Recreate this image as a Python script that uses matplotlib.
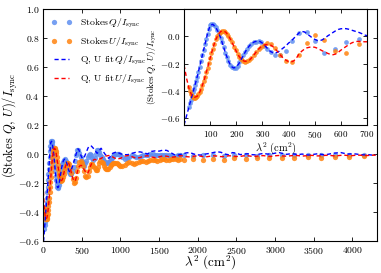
import numpy as np
import matplotlib
matplotlib.use('Agg')
import matplotlib.pyplot as plt

plt.rcParams['font.family'] = 'serif'
plt.rcParams['font.serif'] = ['cmr10']
plt.rcParams['mathtext.fontset'] = 'cm'
plt.rcParams['axes.formatter.use_mathtext'] = True

# densely sampled channels, shared by both panels (lambda^2 in cm^2)
lam2_dense = [18, 22, 26, 30, 34, 38, 42, 46, 50, 55, 60, 65, 70, 75, 80, 85, 90, 95,
              100, 105, 110, 116, 122, 128, 134, 140, 146, 152, 158, 164, 170, 177,
              184, 191, 198, 205, 212, 219, 226, 234, 242, 250, 258, 267, 276, 286, 296]
q_dense = [-0.52, -0.49, -0.47, -0.44, -0.41, -0.385, -0.36, -0.33, -0.30, -0.26,
           -0.225, -0.18, -0.14, -0.10, -0.06, -0.02, 0.02, 0.055, 0.08, 0.09, 0.09,
           0.08, 0.065, 0.045, 0.02, -0.01, -0.045, -0.08, -0.12, -0.15, -0.18, -0.21,
           -0.225, -0.235, -0.23, -0.215, -0.19, -0.165, -0.14, -0.115, -0.09, -0.07,
           -0.055, -0.045, -0.04, -0.035, -0.045]
u_dense = [-0.37, -0.40, -0.42, -0.44, -0.445, -0.45, -0.45, -0.445, -0.44, -0.425,
           -0.41, -0.385, -0.36, -0.33, -0.30, -0.265, -0.23, -0.195, -0.16, -0.125,
           -0.09, -0.055, -0.02, 0.005, 0.02, 0.035, 0.04, 0.04, 0.035, 0.02, 0.005,
           -0.02, -0.045, -0.075, -0.10, -0.13, -0.15, -0.165, -0.18, -0.185, -0.18,
           -0.175, -0.16, -0.14, -0.115, -0.095, -0.075]

# sparse points seen in the inset (300-700 cm^2)
lam2_zoom = [306, 317, 332, 349, 368, 391, 413, 441, 470, 502, 536, 576, 619, 668]
q_zoom = [-0.07, -0.09, -0.113, -0.14, -0.14, -0.105, -0.037, 0.025, 0.03, -0.037,
          -0.12, -0.09, -0.043, -0.022]
u_zoom = [-0.065, -0.05, -0.06, -0.088, -0.135, -0.18, -0.188, -0.137, -0.05, 0.007,
          -0.027, -0.105, -0.123, -0.053]

# long-wavelength channels in the main panel
lam2_wide = [306, 321, 336, 351, 366, 381, 396, 411, 426, 441, 456, 471, 486, 501,
             516, 531, 546, 561, 576, 591, 606, 621, 636, 651, 666, 681, 696, 711,
             726, 741, 756, 771, 786, 801, 816, 831, 846, 861, 876, 891, 906, 921,
             936, 951, 966, 981, 996, 1026, 1056, 1086, 1116, 1146, 1176, 1206, 1236,
             1266, 1296, 1326, 1356, 1386, 1416, 1446, 1476, 1506, 1536, 1566, 1596,
             1626, 1656, 1686, 1716, 1746, 1776, 1825, 1945, 2070, 2200, 2335, 2475,
             2620, 2770, 2925, 3085, 3250, 3420, 3595, 3775, 3960, 4150]
q_wide = [-0.07, -0.10, -0.125, -0.138, -0.138, -0.12, -0.09, -0.05, -0.01, 0.025,
          0.028, 0.01, -0.02, -0.05, -0.075, -0.08, -0.065, -0.045, -0.02, -0.005,
          0.0, -0.01, -0.03, -0.04, -0.03, 0.0, 0.03, 0.025, 0.012, -0.005, -0.02,
          -0.035, -0.048, -0.056, -0.06, -0.06, -0.056, -0.046, -0.035, -0.024,
          -0.014, -0.006, -0.002, 0.0, 0.0, -0.003, -0.01, -0.02, -0.034, -0.03,
          -0.018, -0.01, -0.012, -0.018, -0.02, -0.016, -0.01, -0.006, -0.004,
          -0.002, 0.0, -0.004, -0.008, -0.01, -0.008, -0.005, -0.006, -0.01, -0.013,
          -0.014, -0.012, -0.01, -0.01, -0.01, -0.015, -0.01, -0.005, -0.015, -0.01,
          -0.005, -0.012, -0.008, -0.01, -0.005, -0.008, -0.01, -0.004, -0.008, -0.005]
u_wide = [-0.065, -0.06, -0.07, -0.095, -0.13, -0.17, -0.198, -0.195, -0.165, -0.12,
          -0.08, -0.055, -0.05, -0.06, -0.085, -0.12, -0.15, -0.16, -0.15, -0.12,
          -0.09, -0.072, -0.07, -0.08, -0.095, -0.108, -0.11, -0.09, -0.065, -0.05,
          -0.052, -0.065, -0.08, -0.095, -0.103, -0.105, -0.10, -0.09, -0.078,
          -0.068, -0.062, -0.06, -0.06, -0.064, -0.071, -0.078, -0.083, -0.085,
          -0.075, -0.062, -0.056, -0.06, -0.066, -0.062, -0.052, -0.046, -0.05,
          -0.052, -0.046, -0.04, -0.038, -0.042, -0.045, -0.04, -0.035, -0.036,
          -0.04, -0.038, -0.034, -0.033, -0.037, -0.038, -0.034, -0.04, -0.035,
          -0.04, -0.035, -0.038, -0.03, -0.032, -0.028, -0.03, -0.025, -0.028,
          -0.02, -0.025, -0.018, -0.02, -0.015]

# fitted model (Q, U fit) sampled in lambda^2
lam2_fit = list(range(0, 701, 10)) + list(range(750, 4301, 50))

q_fit = [-0.65, -0.58, -0.51, -0.44, -0.37, -0.30, -0.22, -0.14, -0.06, 0.02,
         0.08, 0.088, 0.07, 0.035, -0.01, -0.07, -0.13, -0.18, -0.22, -0.232,
         -0.225, -0.20, -0.165, -0.13, -0.095, -0.07, -0.05, -0.04, -0.035, -0.037,
         -0.05, -0.07, -0.09, -0.11, -0.12, -0.122, -0.115, -0.10, -0.085, -0.07,
         -0.05, -0.035, -0.015, 0.005, 0.025, 0.035, 0.033, 0.02, 0.005, -0.01,
         -0.022, -0.03, -0.032, -0.025, -0.012, 0.003, 0.015, 0.028, 0.04, 0.05,
         0.055, 0.057, 0.056, 0.052, 0.046, 0.04, 0.034, 0.028, 0.02, 0.01, 0.005,
         # 750 .. 4300
         0.04, 0.0, -0.03, 0.005, 0.015, 0.002, -0.005, -0.004, 0.005, 0.012,
         0.015, 0.01, 0.0, 0.018, 0.022, 0.02, 0.027, 0.025, 0.01, -0.005,
         -0.007, 0.0, 0.008, 0.01, 0.0, -0.006, -0.007, 0.0, 0.004, 0.01,
         0.016, 0.012, 0.0, -0.005, 0.01, 0.006, -0.004, 0.0, 0.002, -0.004,
         -0.006, 0.0, 0.004, 0.0, 0.0, 0.006, 0.01, 0.004, -0.002, 0.002,
         0.0, -0.004, 0.0, -0.006, -0.007, -0.002, 0.002, -0.003, -0.005, 0.0,
         0.006, 0.008, 0.01, 0.004, 0.0, 0.002, 0.0, -0.004, -0.006, -0.004,
         -0.007, -0.005]

u_fit = [-0.21, -0.31, -0.39, -0.435, -0.447, -0.44, -0.41, -0.36, -0.30, -0.23,
         -0.16, -0.09, -0.03, 0.01, 0.035, 0.04, 0.03, 0.005, -0.03, -0.07,
         -0.11, -0.145, -0.17, -0.182, -0.183, -0.175, -0.155, -0.13, -0.105, -0.085,
         -0.07, -0.062, -0.06, -0.062, -0.075, -0.095, -0.115, -0.14, -0.16, -0.175,
         -0.185, -0.188, -0.18, -0.16, -0.13, -0.11, -0.095, -0.085, -0.08, -0.078,
         -0.08, -0.087, -0.097, -0.107, -0.115, -0.125, -0.132, -0.135, -0.13, -0.118,
         -0.102, -0.088, -0.075, -0.062, -0.05, -0.042, -0.038, -0.037, -0.038, -0.04,
         -0.04,
         # 750 .. 4300
         -0.03, -0.015, -0.01, -0.02, -0.035, -0.03, -0.015, -0.01, -0.018, -0.028,
         -0.025, -0.015, -0.012, -0.02, -0.025, -0.02, -0.012, -0.015, -0.022, -0.02,
         -0.013, -0.012, -0.018, -0.02, -0.015, -0.012, -0.016, -0.02, -0.016, -0.012,
         -0.014, -0.018, -0.017, -0.012, -0.013, -0.017, -0.016, -0.012, -0.012, -0.016,
         -0.016, -0.012, -0.011, -0.015, -0.016, -0.012, -0.01, -0.013, -0.015, -0.012,
         -0.009, -0.011, -0.014, -0.012, -0.009, -0.01, -0.013, -0.012, -0.009, -0.009,
         -0.012, -0.012, -0.009, -0.008, -0.011, -0.011, -0.008, -0.008, -0.01, -0.01,
         -0.008, -0.008]

q_col = '#5f8ff0'
u_col = '#ff8410'
ylab = r'(Stokes $Q$, $U)/I_{\rm sync}$'
xlab = r'$\lambda^2\ (\mathrm{cm}^2)$'


def draw(ax, lam2, q, u, ms, lw):
    ax.plot(lam2, q, 'o', color=q_col, ms=ms, mec='none', alpha=0.85,
            label=r'Stokes$\,Q/I_{\rm sync}$')
    ax.plot(lam2, u, 'o', color=u_col, ms=ms, mec='none', alpha=0.85,
            label=r'Stokes$\,U/I_{\rm sync}$')
    ax.plot(lam2_fit, q_fit, '--', color='b', lw=lw, dashes=(3, 2),
            label=r'Q, U fit$\,Q/I_{\rm sync}$')
    ax.plot(lam2_fit, u_fit, '--', color='r', lw=lw, dashes=(3, 2),
            label=r'Q, U fit$\,U/I_{\rm sync}$')
    ax.tick_params(direction='in', top=True, right=True, labelsize=7,
                   length=3, width=0.6, pad=2.5)
    for s in ax.spines.values():
        s.set_linewidth(0.8)


fig = plt.figure(figsize=(3.81, 2.73), dpi=100)

ax = fig.add_axes([0.113, 0.117, 0.877, 0.850])
draw(ax, lam2_dense + lam2_wide, q_dense + q_wide, u_dense + u_wide, 3.8, 1.0)
ax.set_xlim(0, 4320)
ax.set_ylim(-0.6, 1.0)
ax.set_xticks(np.arange(0, 4001, 500))
ax.set_yticks(np.arange(-0.6, 1.01, 0.2))
ax.set_xlabel(xlab, fontsize=9.5)
ax.xaxis.set_label_coords(0.5, -0.056)
ax.set_ylabel(ylab, fontsize=9)
ax.yaxis.set_label_coords(-0.07, 0.5)
ax.legend(loc='upper left', frameon=False, fontsize=7, numpoints=2,
          handlelength=2.2, labelspacing=0.55, borderaxespad=0.4)

axin = fig.add_axes([0.483, 0.542, 0.480, 0.425])
draw(axin, lam2_dense + lam2_zoom, q_dense + q_zoom, u_dense + u_zoom, 3.4, 1.0)
axin.set_xlim(0, 700)
axin.set_ylim(-0.65, 0.2)
axin.set_xticks(np.arange(100, 701, 100))
axin.set_yticks([-0.6, -0.4, -0.2, 0.0])
axin.tick_params(labelsize=6.5)
axin.set_xlabel(xlab, fontsize=7.5)
axin.xaxis.set_label_coords(0.5, -0.13)
axin.set_ylabel(ylab, fontsize=6.5, labelpad=1)

fig.savefig('out.png', dpi=100)
